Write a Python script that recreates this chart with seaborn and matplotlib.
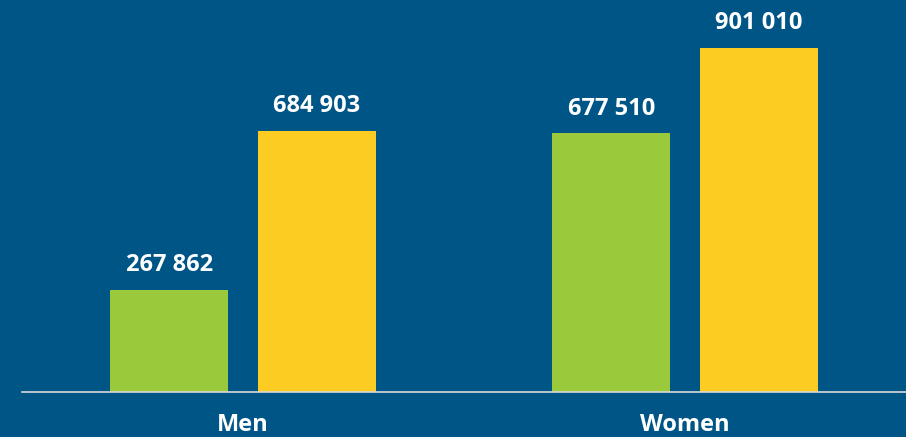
import matplotlib
matplotlib.use('Agg')

import matplotlib.pyplot as plt
import pandas as pd
import seaborn as sns

categories = ['Men', 'Women']
series_names = ['Series 1', 'Series 2']
series_1 = [267862, 677510]
series_2 = [684903, 901010]

bg = '#005587'
colors = ['#9ACA3C', '#FCCC22']

df = pd.DataFrame({
    'category': categories * 2,
    'series': [series_names[0]] * 2 + [series_names[1]] * 2,
    'value': series_1 + series_2,
})

sns.set_theme(style='white')
plt.rcParams['font.family'] = ['Open Sans', 'DejaVu Sans']

fig = plt.figure(figsize=(9.06, 4.37), dpi=100, facecolor=bg)
ax = fig.add_axes([22 / 906, 1 - 392 / 437, 1 - 22 / 906, 392 / 437])
ax.set_facecolor(bg)

sns.barplot(data=df, x='category', y='value', hue='series', order=categories,
            hue_order=series_names, palette=colors, width=0.668, gap=0.2,
            saturation=1, legend=False, linewidth=0, ax=ax)

for cont in ax.containers:
    for bar in cont:
        h = bar.get_height()
        ax.annotate(f'{int(h):,}'.replace(',', ' '),
                    (bar.get_x() + bar.get_width() / 2, h),
                    xytext=(0, 9), textcoords='offset points',
                    ha='center', va='bottom', color='white',
                    fontsize=17, fontweight='bold')

ax.set_xlim(-0.5, 1.5)
ax.set_ylim(0, 1026700)
ax.set_xlabel('')
ax.set_ylabel('')
ax.set_yticks([])
ax.tick_params(axis='x', length=0, pad=15, labelsize=17, labelcolor='white')
for lbl in ax.get_xticklabels():
    lbl.set_fontweight('bold')

for s in ['top', 'right', 'left']:
    ax.spines[s].set_visible(False)
ax.spines['bottom'].set_color('#D9D9D9')
ax.spines['bottom'].set_linewidth(1.2)

plt.savefig('out.png', dpi=100, facecolor=bg)
